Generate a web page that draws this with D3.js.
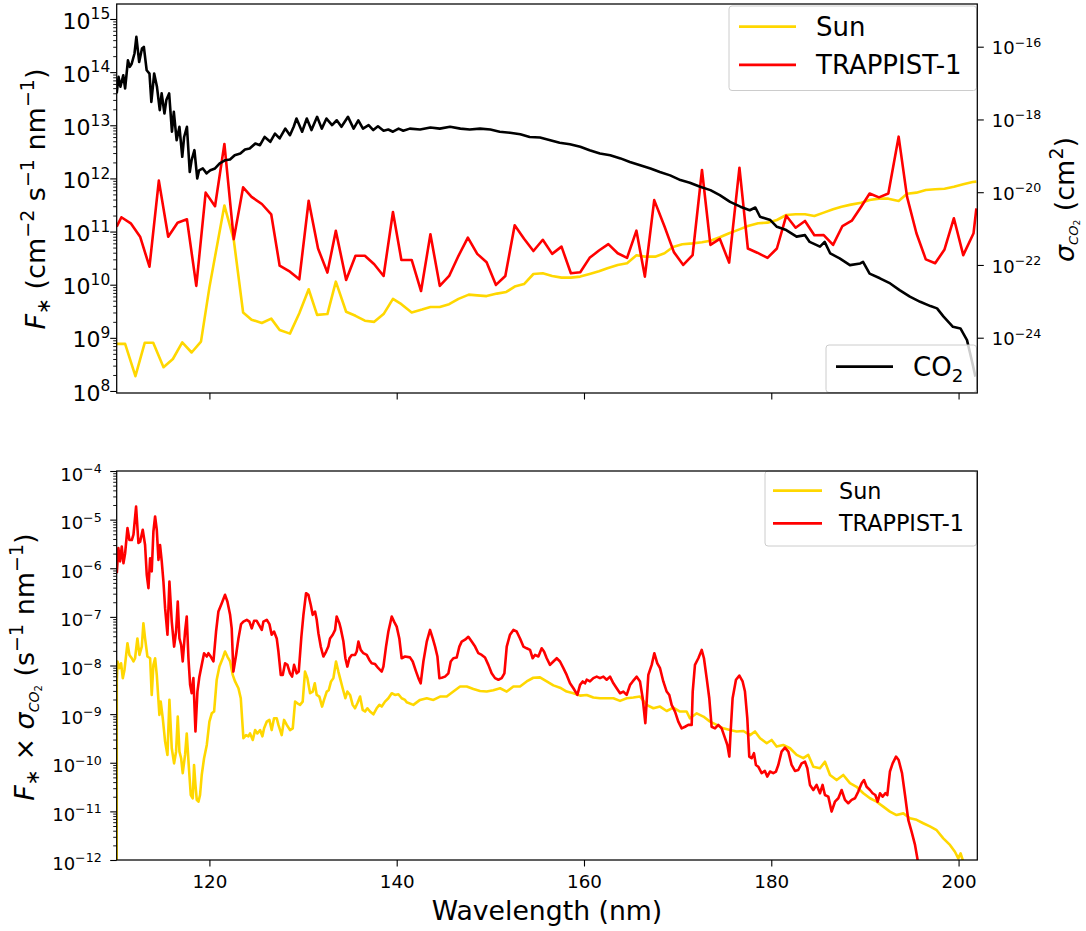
<!DOCTYPE html>
<html><head><meta charset="utf-8">
<script src="https://cdn.jsdelivr.net/npm/d3@7"></script>
<style>body{margin:0;background:#fff} text{font-family:"DejaVu Sans",sans-serif;fill:#000}</style>
</head><body><svg id="c" width="1086" height="931"></svg>
<script>
// ---------------- DATA ----------------
// Top panel: stellar flux (cm^-2 s^-1 nm^-1)
const sunFluxWl = [110.1,111.0,112.1,113.1,114.0,115.1,116.1,117.1,118.1,119.1,120.0,121.6,122.6,123.6,124.5,125.6,126.6,127.5,128.6,129.6,130.6,131.5,132.6,133.5,134.6,135.6,136.6,137.6,138.6,139.6,140.5,141.6,142.7,143.6,144.6,145.6,146.6,147.7,148.6,149.6,150.7,151.7,152.6,153.6,154.6,155.6,156.6,157.6,158.6,159.6,160.6,161.6,162.5,163.6,164.6,165.6,166.5,167.6,168.6,169.5,170.5,171.6,172.6,173.5,174.5,175.5,176.6,177.5,178.6,179.6,180.6,181.6,182.6,183.6,184.6,185.6,186.6,187.5,188.5,189.6,190.5,191.5,192.5,193.6,194.5,195.5,196.5,197.5,198.5,199.5,200.5,201.5,201.9];
const sunFlux = [7.7e8,7.7e8,1.9e8,8.1e8,8.1e8,2.8e8,4.0e8,8.2e8,5.3e8,8.5e8,8.9e9,3.1e11,7.0e10,3.0e9,2.2e9,1.9e9,2.3e9,1.4e9,1.2e9,2.9e9,8.2e9,2.7e9,2.8e9,1.14e10,3.1e9,2.6e9,2.1e9,2.0e9,2.8e9,5.4e9,4.3e9,3.0e9,3.4e9,3.8e9,3.8e9,4.3e9,5.4e9,6.5e9,6.3e9,6.1e9,6.8e9,7.3e9,9.2e9,1.03e10,1.59e10,1.64e10,1.46e10,1.36e10,1.36e10,1.42e10,1.59e10,1.79e10,2.04e10,2.35e10,2.53e10,3.57e10,3.37e10,3.37e10,3.9e10,5.13e10,5.77e10,6.0e10,6.3e10,6.7e10,7.8e10,9.3e10,1.1e11,1.27e11,1.43e11,1.47e11,1.65e11,2.05e11,2.11e11,2.11e11,1.96e11,2.27e11,2.62e11,2.94e11,3.21e11,3.49e11,3.93e11,4.16e11,4.16e11,3.77e11,5.16e11,5.4e11,6.05e11,6.24e11,6.41e11,6.98e11,7.76e11,8.57e11,8.69e11];
const trapFluxWl = [110.1,110.6,111.6,112.6,113.6,114.6,115.6,116.6,117.6,118.6,119.6,120.6,121.6,122.6,123.6,124.5,125.6,126.6,127.5,128.6,129.6,130.6,131.6,132.6,133.5,134.6,135.6,136.6,137.6,138.6,139.6,140.5,141.6,142.6,143.6,144.6,145.6,146.6,147.6,148.6,149.6,150.6,151.6,152.6,153.6,154.6,155.6,156.6,157.6,158.6,159.6,160.6,161.6,162.6,163.6,164.6,165.6,166.5,167.5,168.6,169.6,170.6,171.6,172.6,173.5,174.5,175.5,176.6,177.5,178.5,179.6,180.6,181.6,182.6,183.6,184.6,185.6,186.6,187.6,188.6,189.6,190.5,191.5,192.5,193.6,194.5,195.5,196.5,197.5,198.5,199.5,200.5,201.6,201.9];
const trapFlux = [1.24e11,1.86e11,1.43e11,8.0e10,2.18e10,9.1e11,8.0e10,1.47e11,1.70e11,9.5e9,5.4e11,3.0e11,4.45e12,7.2e10,6.8e11,4.5e11,3.3e11,2.11e11,2.28e10,1.76e10,1.26e10,3.8e11,4.8e10,1.69e10,1.03e11,1.23e10,3.5e10,3.5e10,2.42e10,1.46e10,2.33e11,2.92e10,2.92e10,7.6e9,8.9e10,9.5e9,1.46e10,3.5e10,7.7e10,3.8e10,2.64e10,9.9e9,1.46e10,1.31e11,7.3e10,4.3e10,7.0e10,3.8e10,5.2e10,1.64e10,1.71e10,3.2e10,4.4e10,5.8e10,3.9e10,3.2e10,1.04e11,1.42e10,3.9e11,1.24e11,4.1e10,2.35e10,3.6e10,1.44e12,5.6e10,7.3e10,2.6e10,1.59e12,4.8e10,4.0e10,3.2e10,4.8e10,1.99e11,1.18e11,1.58e11,8.5e10,8.6e10,5.6e10,1.27e11,1.6e11,2.94e11,5.2e11,4.4e11,5.2e11,6.1e12,4.5e11,9.3e10,3.0e10,2.53e10,4.6e10,1.78e11,3.6e10,9.3e10,2.74e11];
// Top panel, right axis: CO2 cross section (cm^2)
const co2Wl = [110.1,110.3,110.5,110.8,111.0,111.3,111.5,111.7,112.0,112.2,112.5,112.8,113.0,113.3,113.6,113.8,114.1,114.4,114.7,114.9,115.2,115.4,115.7,116.0,116.2,116.5,116.8,117.1,117.3,117.6,117.9,118.1,118.4,118.7,118.9,119.3,119.7,120.1,120.6,121.1,121.7,122.2,122.7,123.3,123.8,124.3,124.9,125.4,125.9,126.5,127.0,127.5,128.1,128.6,129.0,129.3,129.9,130.4,130.9,131.5,132.0,132.5,133.1,133.6,134.1,134.8,135.4,135.9,136.4,137.0,137.5,138.0,138.6,139.1,139.6,140.2,140.7,141.4,142.5,143.6,144.6,145.7,146.8,147.8,148.9,150.0,151.0,152.1,153.2,154.2,155.3,156.4,157.4,158.5,159.6,160.6,161.7,162.8,163.9,164.9,166.0,167.1,168.1,169.2,170.3,171.3,172.4,173.5,174.5,175.6,176.7,177.7,178.3,178.8,179.9,180.6,181.6,182.7,183.6,184.1,185.2,185.7,186.3,187.3,188.4,189.5,189.8,190.5,191.6,192.7,193.7,194.8,195.9,197.0,197.7,198.4,199.4,200.2,200.9,201.4,201.8];
const co2Sigma = [5.2e-18,1.48e-17,7.9e-18,1.64e-17,7.1e-18,4.2e-17,2.8e-17,3.4e-17,6.5e-17,1.86e-16,3.8e-17,8.9e-17,9.9e-17,2.25e-17,1.83e-17,3.05e-18,1.83e-17,7.9e-18,1.8e-18,5.2e-18,1.46e-18,3.4e-18,5.2e-18,4.6e-19,1.62e-18,2.7e-19,6.3e-19,9.4e-20,3.3e-19,6.3e-19,3.6e-20,7.6e-20,1.43e-19,2.4e-20,4.0e-20,4.5e-20,3.3e-20,4.0e-20,4.5e-20,6.2e-20,7.6e-20,7.9e-20,1.04e-19,1.16e-19,1.49e-19,1.59e-19,2.18e-19,1.96e-19,3.3e-19,2.43e-19,4.1e-19,3.0e-19,5.6e-19,3.7e-19,6.3e-19,1.06e-18,4.6e-19,1.06e-18,5.1e-19,1.18e-18,5.6e-19,1.06e-18,7.0e-19,9.5e-19,6.3e-19,1.18e-18,5.6e-19,9.5e-19,5.6e-19,7.0e-19,5.1e-19,6.5e-19,4.9e-19,5.3e-19,4.6e-19,5.6e-19,4.9e-19,5.6e-19,5.3e-19,6.0e-19,5.6e-19,6.3e-19,5.6e-19,5.3e-19,5.6e-19,5.3e-19,4.6e-19,4.3e-19,3.9e-19,3.3e-19,3.2e-19,2.7e-19,2.28e-19,2.09e-19,1.77e-19,1.43e-19,1.16e-19,1.04e-19,8.5e-20,6.8e-20,5.5e-20,4.5e-20,3.6e-20,2.9e-20,2.15e-20,1.82e-20,1.41e-20,1.14e-20,8.3e-21,5.4e-21,4.0e-21,3.2e-21,3.8e-21,2.11e-21,1.71e-21,1.12e-21,9.1e-22,6.0e-22,6.6e-22,4.3e-22,3.2e-22,4.3e-22,2.07e-22,1.51e-22,9.9e-23,1.1e-22,1.22e-22,5.8e-23,4.3e-23,3.1e-23,2.04e-23,1.34e-23,9.7e-24,7.4e-24,6.4e-24,3.8e-24,2.0e-24,1.8e-24,8.6e-25,2.43e-25,8.5e-26];
// Bottom panel: F* x sigma_CO2 (s^-1 nm^-1)
const sunRateWl = [110.1,110.11,110.18,110.39,110.57,110.75,110.93,111.25,111.46,111.71,111.89,112.06,112.31,112.53,112.78,112.95,113.13,113.38,113.67,113.84,114.02,114.2,114.38,114.66,114.8,115.02,115.27,115.52,115.73,115.98,116.23,116.44,116.62,116.8,116.98,117.15,117.4,117.58,117.79,118.01,118.22,118.36,118.51,118.65,118.83,119.0,119.18,119.43,119.72,120.0,120.25,120.5,120.78,121.07,121.42,121.67,121.92,122.21,122.49,122.74,123.1,123.35,123.63,123.91,124.16,124.34,124.63,124.88,125.12,125.41,125.66,125.84,126.12,126.41,126.65,126.9,127.19,127.37,127.72,127.97,128.26,128.61,128.9,129.15,129.4,129.68,129.96,130.21,130.46,130.75,131.03,131.25,131.46,131.74,132.03,132.24,132.53,132.74,132.99,133.24,133.52,133.77,133.95,134.23,134.52,134.73,135.02,135.3,135.55,135.8,136.09,136.37,136.62,136.87,137.15,137.51,137.86,138.15,138.4,138.75,139.11,139.47,139.82,140.18,140.53,140.89,141.07,141.78,142.49,143.21,143.92,144.63,145.34,146.05,146.77,147.48,148.19,148.9,149.61,150.32,151.04,151.75,152.46,153.17,153.88,154.59,155.3,156.02,156.73,157.44,158.15,158.87,159.58,160.29,161.0,161.71,162.42,163.14,163.85,164.56,165.27,165.98,166.69,167.41,168.12,168.83,169.54,170.25,170.96,171.32,172.04,172.75,173.46,174.17,174.88,175.59,176.3,177.02,177.73,178.26,178.8,179.51,180.04,180.57,181.28,182.0,182.71,183.42,183.95,184.49,185.2,185.73,186.27,186.98,187.69,188.4,189.11,189.83,190.54,191.25,191.96,192.67,193.38,194.1,194.81,195.52,196.23,196.94,197.66,198.37,199.08,199.61,199.97,200.22,200.5,200.8];
const sunRate = [1e-14,4.7e-9,1.21e-8,8.8e-9,1.11e-8,5.5e-9,8.1e-9,2.87e-8,1.65e-8,1.41e-8,1.21e-8,1.41e-8,3.6e-8,1.65e-8,2.45e-8,7.4e-8,3.6e-8,1.53e-8,1.41e-8,2.48e-9,1.03e-8,1.41e-8,6.4e-9,9.6e-10,1.81e-9,8.2e-10,2.72e-10,1.45e-10,1.96e-9,1.99e-10,9.7e-11,1.69e-10,8.9e-10,1.69e-10,1.24e-10,6.1e-11,1.45e-10,4.0e-10,9.0e-11,2.17e-11,1.86e-11,9.0e-11,3.5e-11,1.72e-11,1.58e-11,2.17e-11,5.6e-11,1.24e-10,2.32e-10,7.0e-10,1.04e-9,1.13e-9,5.1e-9,9.5e-9,1.41e-8,1.94e-8,1.53e-8,1.21e-8,6.4e-9,4.7e-9,3.4e-9,2.12e-9,3.2e-10,3.7e-10,3.5e-10,4.0e-10,2.94e-10,4.7e-10,4.0e-10,4.7e-10,3.5e-10,5.1e-10,7.0e-10,7.6e-10,4.7e-10,8.2e-10,8.2e-10,6.0e-10,3.7e-10,7.6e-10,6.0e-10,4.7e-10,5.1e-10,1.81e-9,1.67e-9,1.55e-9,1.81e-9,7.5e-9,5.5e-9,2.69e-9,2.91e-9,4.3e-9,2.48e-9,2.3e-9,1.43e-9,1.96e-9,2.91e-9,3.1e-9,4.7e-9,5.5e-9,1.21e-8,7.5e-9,5.5e-9,3.4e-9,2.12e-9,2.91e-9,2.48e-9,1.55e-9,1.32e-9,1.67e-9,2.3e-9,1.22e-9,1.13e-9,1.32e-9,1.13e-9,9.9e-10,1.32e-9,1.55e-9,1.43e-9,1.81e-9,2.12e-9,2.69e-9,2.48e-9,2.56e-9,2.12e-9,1.96e-9,1.75e-9,1.55e-9,1.96e-9,2.12e-9,1.96e-9,2.3e-9,2.3e-9,2.91e-9,3.7e-9,3.7e-9,3.3e-9,3.0e-9,2.91e-9,3.1e-9,3.4e-9,2.91e-9,3.7e-9,3.7e-9,4.7e-9,5.6e-9,5.7e-9,4.7e-9,3.9e-9,3.5e-9,2.91e-9,2.69e-9,2.4e-9,2.48e-9,2.19e-9,2.12e-9,2.12e-9,2.12e-9,1.87e-9,2.12e-9,2.19e-9,2.3e-9,1.55e-9,1.32e-9,1.43e-9,1.16e-9,1.36e-9,1.13e-9,1.13e-9,8.2e-10,1.04e-9,8.9e-10,7.0e-10,6.0e-10,5.1e-10,4.7e-10,4.4e-10,4.5e-10,3.7e-10,4.4e-10,3.2e-10,2.52e-10,2.94e-10,2.15e-10,2.32e-10,1.99e-10,1.45e-10,1.24e-10,1.45e-10,8.3e-11,7.7e-11,1.05e-10,5.6e-11,4.4e-11,5.6e-11,3.8e-11,3.2e-11,2.36e-11,1.86e-11,1.58e-11,1.25e-11,9.9e-12,8.4e-12,9.1e-12,7.2e-12,6.7e-12,5.7e-12,4.9e-12,4.1e-12,2.79e-12,2.04e-12,1.48e-12,1.08e-12,1.37e-12,9.2e-13,5e-13];
const trapRateWl = [110.11,110.28,110.46,110.64,110.82,111.0,111.25,111.46,111.71,111.89,112.17,112.42,112.6,112.88,113.13,113.31,113.49,113.67,113.84,114.02,114.2,114.38,114.56,114.73,114.91,115.09,115.27,115.52,115.73,115.98,116.23,116.44,116.62,116.8,116.98,117.15,117.4,117.58,117.76,117.94,118.11,118.29,118.51,118.72,118.93,119.18,119.43,119.72,119.89,120.14,120.43,120.71,120.96,121.32,121.67,121.92,122.21,122.38,122.56,122.85,123.1,123.38,123.63,123.99,124.27,124.52,124.77,125.05,125.34,125.59,125.77,126.12,126.41,126.65,126.9,127.19,127.37,127.62,127.83,128.08,128.33,128.61,128.83,129.04,129.32,129.54,129.82,130.04,130.32,130.57,130.82,131.03,131.28,131.46,131.64,131.89,132.17,132.46,132.7,132.88,133.17,133.42,133.59,133.88,134.02,134.31,134.52,134.73,134.95,135.2,135.55,135.73,135.91,136.16,136.44,136.8,137.08,137.33,137.69,138.04,138.4,138.58,138.86,139.11,139.47,139.72,140.0,140.28,140.53,140.89,141.42,141.71,142.07,142.32,142.56,142.85,143.21,143.56,143.85,144.1,144.35,144.56,144.81,145.16,145.52,145.77,146.05,146.41,146.69,146.94,147.3,147.65,148.01,148.37,148.72,149.08,149.43,149.79,150.14,150.5,150.86,151.21,151.5,151.75,152.1,152.46,152.81,153.17,153.53,153.88,154.24,154.52,154.77,155.13,155.48,155.73,156.02,156.37,156.73,157.09,157.44,157.8,158.15,158.51,158.87,159.29,159.58,159.86,160.11,160.29,160.64,161.0,161.36,161.71,162.07,162.42,162.78,163.14,163.49,163.85,164.2,164.56,164.92,165.2,165.63,165.98,166.27,166.55,166.87,167.23,167.51,167.83,168.12,168.47,168.83,169.11,169.36,169.72,170.07,170.43,170.79,171.14,171.5,171.61,171.85,172.21,172.57,172.81,173.1,173.38,173.63,173.99,174.34,174.7,175.06,175.31,175.52,175.66,175.87,176.23,176.59,176.94,177.19,177.44,177.65,177.9,178.15,178.36,178.61,178.97,179.32,179.57,179.86,180.21,180.5,180.75,181.1,181.46,181.82,182.17,182.53,182.88,183.24,183.6,183.85,184.13,184.49,184.84,185.2,185.48,185.73,186.09,186.44,186.8,187.16,187.51,187.87,188.22,188.58,188.94,189.29,189.65,189.9,190.18,190.54,190.82,191.11,191.36,191.61,191.89,192.18,192.39,192.67,192.96,193.32,193.6,193.96,194.28,194.63,194.99,195.35,195.63,195.9];
const trapRate = [7.9e-7,2.59e-6,1.38e-6,2.8e-6,1.27e-6,2.04e-6,6.7e-6,3.8e-6,3.8e-6,4.9e-6,1.86e-5,3.3e-6,3.5e-6,6.2e-6,3.0e-6,7.3e-7,3.9e-7,1.61e-6,8.6e-7,5.7e-6,1.16e-5,6.2e-6,1.49e-6,3.0e-6,1.38e-6,5.3e-7,1.51e-7,4.3e-8,5.3e-7,8.0e-8,2.45e-8,5.0e-8,2.07e-7,3.6e-8,2.65e-8,1.21e-8,5.0e-8,1.02e-7,1.41e-8,4.0e-9,2.69e-9,5.5e-9,4.4e-10,2.91e-9,5.9e-9,1.03e-8,1.79e-8,1.53e-8,1.79e-8,1.53e-8,1.21e-8,5.0e-8,1.29e-7,1.91e-7,2.84e-7,2.07e-7,1.1e-7,5.8e-8,7.5e-9,1.65e-8,3.6e-8,7.1e-8,8.0e-8,8.7e-8,8.0e-8,5.8e-8,8.3e-8,8.3e-8,6.6e-8,5.4e-8,8.0e-8,8.7e-8,7.1e-8,4.3e-8,5.0e-8,3.6e-8,1.94e-8,6.4e-9,6.4e-9,1.11e-8,1.03e-8,6.9e-9,5.9e-9,1.03e-8,6.9e-9,7.5e-9,3.9e-8,1.1e-7,3.07e-7,2.84e-7,1.77e-7,1.1e-7,1.29e-7,8.7e-8,4.6e-8,2.45e-8,1.53e-8,1.94e-8,2.45e-8,3.6e-8,4.3e-8,5.4e-8,1.02e-7,7.4e-8,5.8e-8,3.1e-8,1.41e-8,9.5e-9,1.41e-8,1.65e-8,1.65e-8,1.94e-8,3.1e-8,2.09e-8,1.79e-8,1.65e-8,1.3e-8,1.11e-8,1.07e-8,8.8e-9,7.5e-9,9.5e-9,2.45e-8,5.0e-8,1.02e-7,8.0e-8,6.3e-8,3.6e-8,1.41e-8,1.53e-8,1.47e-8,1.21e-8,7.5e-9,5.5e-9,4.3e-9,1.21e-8,3.1e-8,5.4e-8,3.6e-8,2.45e-8,1.53e-8,5.5e-9,5.6e-9,5.9e-9,6.9e-9,1.21e-8,1.41e-8,1.46e-8,2.45e-8,3.1e-8,3.4e-8,3.9e-8,3.1e-8,2.45e-8,1.79e-8,1.65e-8,1.46e-8,1.03e-8,6.9e-9,5.5e-9,5.1e-9,5.5e-9,6.9e-9,2.45e-8,4.3e-8,5.4e-8,5.0e-8,3.6e-8,2.45e-8,2.26e-8,2.09e-8,1.41e-8,1.65e-8,1.53e-8,2.26e-8,1.94e-8,1.41e-8,1.03e-8,1.21e-8,1.41e-8,1.21e-8,8.8e-9,6.4e-9,4.3e-9,3.4e-9,2.48e-9,4.0e-9,4.7e-9,4.3e-9,5.1e-9,4.7e-9,5.5e-9,5.9e-9,5.5e-9,5.9e-9,5.1e-9,5.9e-9,4.3e-9,3.4e-9,2.69e-9,2.91e-9,2.48e-9,4.0e-9,4.7e-9,5.9e-9,4.7e-9,2.12e-9,6.5e-10,6.4e-9,1.03e-8,1.79e-8,1.11e-8,8.8e-9,4.7e-9,2.91e-9,2.48e-9,1.55e-9,1.13e-9,7.0e-10,5.1e-10,5.5e-10,6.0e-10,6.0e-10,2.91e-9,1.03e-8,1.41e-8,2.09e-8,1.41e-8,5.5e-9,2.12e-9,5.5e-10,5.1e-10,6.0e-10,5.1e-10,3.2e-10,2.32e-10,1.34e-10,4.4e-10,2.12e-9,5.1e-9,6.2e-9,4.7e-9,2.91e-9,8.2e-10,1.34e-10,1.24e-10,1.57e-10,9.0e-11,8.3e-11,6.1e-11,6.8e-11,5.2e-11,6.6e-11,6.1e-11,6.6e-11,9.0e-11,1.69e-10,2.05e-10,1.69e-10,9.0e-11,6.8e-11,7.1e-11,9.7e-11,1.05e-10,7.7e-11,3.5e-11,2.75e-11,3.5e-11,2.36e-11,3.5e-11,2.17e-11,2.01e-11,9.9e-12,1.58e-11,1.86e-11,2.75e-11,1.72e-11,1.47e-11,1.72e-11,1.86e-11,2.55e-11,3.8e-11,4.4e-11,3.2e-11,2.75e-11,2.36e-11,2.17e-11,1.58e-11,2.36e-11,2.01e-11,2.36e-11,2.17e-11,6.6e-11,9.7e-11,1.34e-10,1.14e-10,6.1e-11,2.17e-11,6.7e-12,3.8e-12,2.04e-12,1.0e-12,4e-13];
// Axis ticks
const xTicks = [120,140,160,180,200];
const fluxTicks = [8,9,10,11,12,13,14,15];        // exponents, left axis top panel
const sigmaTicks = [-24,-22,-20,-18,-16];         // exponents, right axis top panel
const rateTicks = [-12,-11,-10,-9,-8,-7,-6,-5,-4]; // exponents, bottom panel
const seriesNames = ["Sun","TRAPPIST-1"];
const colors = {sun:"#FFD700", trap:"#FF0000", co2:"#000000"};

// ---------------- LAYOUT ----------------
const svg = d3.select("#c");
const L = 116.7, R = 977.3;
const T1 = 4, B1 = 393, T2 = 471, B2 = 860;
const x = d3.scaleLinear().domain([110.1, 202.0]).range([L, R]);
const yF = d3.scaleLog().domain([Math.pow(10,7.962), Math.pow(10,15.282)]).range([B1, T1]);
const yS = d3.scaleLog().domain([Math.pow(10,-25.52), Math.pow(10,-14.826)]).range([B1, T1]);
const yR = d3.scaleLog().domain([1e-12, 1e-4]).range([B2, T2]);
const zip = (a,b) => a.map((v,i)=>[v,b[i]]);
const LW = 2.6;

const defs = svg.append("defs");
defs.append("clipPath").attr("id","clipTop").append("rect").attr("x",L).attr("y",T1).attr("width",R-L).attr("height",B1-T1);
defs.append("clipPath").attr("id","clipBot").append("rect").attr("x",L).attr("y",T2).attr("width",R-L).attr("height",B2-T2);

function drawLine(g, data, ys, color, clip){
  g.append("path").datum(data)
    .attr("clip-path", `url(#${clip})`)
    .attr("fill","none").attr("stroke",color).attr("stroke-width",LW)
    .attr("stroke-linejoin","round").attr("stroke-linecap","butt")
    .attr("d", d3.line().x(d=>x(d[0])).y(d=>ys(d[1])));
}
function minorVals(lo, hi){ const out=[]; for(let e=lo;e<hi;e++) for(let m=2;m<=9;m++) out.push(m*Math.pow(10,e)); return out; }
function expLabel(sel, exp, fs){
  sel.text(null);
  sel.append("tspan").text("10");
  sel.append("tspan").attr("font-size", fs*0.7).attr("dy", -fs*0.42).text(String(exp).replace("-","\u2212"));
}
function styleAxis(g){
  g.select(".domain").remove();
  g.selectAll(".tick line").attr("stroke","#000").attr("stroke-width",1.1);
}

// ---------------- TOP PANEL ----------------
const gTop = svg.append("g");
drawLine(gTop, zip(sunFluxWl, sunFlux), yF, colors.sun, "clipTop");
drawLine(gTop, zip(trapFluxWl, trapFlux), yF, colors.trap, "clipTop");

function legendBox(g, x0, y0, w, h, items, fs, lineX0, lineX1, textX){
  g.append("rect").attr("x",x0).attr("y",y0).attr("width",w).attr("height",h).attr("rx",3)
    .attr("fill","#fff").attr("fill-opacity",0.8).attr("stroke","#cccccc").attr("stroke-width",1);
  items.forEach(it=>{
    g.append("line").attr("x1",lineX0).attr("x2",lineX1).attr("y1",it.y).attr("y2",it.y)
      .attr("stroke",it.color).attr("stroke-width",2.8);
    const t = g.append("text").attr("x",textX).attr("y",it.y + fs*0.36).attr("font-size",fs);
    it.render(t, fs);
  });
}
legendBox(gTop, 729, 6, 247.5, 84.5, [
  {y:26.7, color:colors.sun, render:(t)=>t.text(seriesNames[0])},
  {y:64.8, color:colors.trap, render:(t)=>t.text(seriesNames[1])}
], 26, 739, 796, 816);

drawLine(gTop, zip(co2Wl, co2Sigma), yS, colors.co2, "clipTop");
legendBox(gTop, 826, 345, 150.5, 47.5, [
  {y:366.7, color:colors.co2, render:(t,fs)=>{ t.append("tspan").text("CO"); t.append("tspan").attr("font-size",fs*0.7).attr("dy",fs*0.22).text("2"); }}
], 26, 836, 893, 913);

// axes top
const axL1 = gTop.append("g").attr("transform",`translate(${L},0)`)
  .call(d3.axisLeft(yF).tickValues(fluxTicks.map(e=>Math.pow(10,e))).tickSize(6.5).tickPadding(0).tickFormat(""));
styleAxis(axL1);
axL1.selectAll(".tick").each(function(d,i){
  const fs=22;
  const t = d3.select(this).append("text").attr("x",-6.5).attr("y",fs*0.3645+1).attr("text-anchor","end").attr("font-size",fs);
  expLabel(t, fluxTicks[i], fs);
});
const axL1m = gTop.append("g").attr("transform",`translate(${L},0)`)
  .call(d3.axisLeft(yF).tickValues(minorVals(7,15).filter(v=>v>=yF.domain()[0]&&v<=yF.domain()[1])).tickSize(3.5).tickFormat(""));
styleAxis(axL1m); axL1m.selectAll(".tick line").attr("stroke-width",0.9);

const axR1 = gTop.append("g").attr("transform",`translate(${R},0)`)
  .call(d3.axisRight(yS).tickValues(sigmaTicks.map(e=>Math.pow(10,e))).tickSize(6.5).tickFormat(""));
styleAxis(axR1);
axR1.selectAll(".tick").each(function(d,i){
  const fs=18;
  const t = d3.select(this).append("text").attr("x",14.5).attr("y",fs*0.3645+0.5).attr("text-anchor","start").attr("font-size",fs);
  expLabel(t, sigmaTicks[i], fs);
});
const axB1 = gTop.append("g").attr("transform",`translate(0,${B1})`)
  .call(d3.axisBottom(x).tickValues(xTicks).tickSize(6.5).tickFormat(""));
styleAxis(axB1);
gTop.append("rect").attr("x",L).attr("y",T1).attr("width",R-L).attr("height",B1-T1)
  .attr("fill","none").attr("stroke","#000").attr("stroke-width",1.25);

// labels top
const yl1 = gTop.append("text").attr("transform","translate(45,199) rotate(-90)").attr("text-anchor","middle").attr("font-size",27);
yl1.append("tspan").attr("font-style","italic").text("F");
yl1.append("tspan").attr("font-size",19).attr("dy",5).text("\u2217");
yl1.append("tspan").attr("dy",-5).text(" (cm");
yl1.append("tspan").attr("font-size",19).attr("dy",-11).text("\u22122");
yl1.append("tspan").attr("dy",11).text(" s");
yl1.append("tspan").attr("font-size",19).attr("dy",-11).text("\u22121");
yl1.append("tspan").attr("dy",11).text(" nm");
yl1.append("tspan").attr("font-size",19).attr("dy",-11).text("\u22121");
yl1.append("tspan").attr("dy",11).text(")");

const yr1 = gTop.append("text").attr("transform","translate(1074,199.5) rotate(-90)").attr("text-anchor","middle").attr("font-size",27);
yr1.append("tspan").attr("font-style","italic").text("\u03C3");
yr1.append("tspan").attr("font-style","italic").attr("font-size",13).attr("dy",4).text("CO");
yr1.append("tspan").attr("font-size",9).attr("dy",2).text("2");
yr1.append("tspan").attr("dy",-6).text(" (cm");
yr1.append("tspan").attr("font-size",19).attr("dy",-11).text("2");
yr1.append("tspan").attr("dy",11).text(")");

// ---------------- BOTTOM PANEL ----------------
const gBot = svg.append("g");
drawLine(gBot, zip(sunRateWl, sunRate), yR, colors.sun, "clipBot");
drawLine(gBot, zip(trapRateWl, trapRate), yR, colors.trap, "clipBot");
legendBox(gBot, 765, 471, 211.5, 75, [
  {y:490.7, color:colors.sun, render:(t)=>t.text(seriesNames[0])},
  {y:523.3, color:colors.trap, render:(t)=>t.text(seriesNames[1])}
], 22.3, 773, 822, 839);

const axL2 = gBot.append("g").attr("transform",`translate(${L},0)`)
  .call(d3.axisLeft(yR).tickValues(rateTicks.map(e=>Math.pow(10,e))).tickSize(6.5).tickFormat(""));
styleAxis(axL2);
axL2.selectAll(".tick").each(function(d,i){
  const fs=18;
  const t = d3.select(this).append("text").attr("x",-15).attr("y",fs*0.3645+2.5).attr("text-anchor","end").attr("font-size",fs);
  expLabel(t, rateTicks[i], fs);
});
const axL2m = gBot.append("g").attr("transform",`translate(${L},0)`)
  .call(d3.axisLeft(yR).tickValues(minorVals(-12,-4)).tickSize(3.5).tickFormat(""));
styleAxis(axL2m); axL2m.selectAll(".tick line").attr("stroke-width",0.9);

const axB2 = gBot.append("g").attr("transform",`translate(0,${B2})`)
  .call(d3.axisBottom(x).tickValues(xTicks).tickSize(6.5).tickFormat(""));
styleAxis(axB2);
axB2.selectAll(".tick").append("text").attr("y",28).attr("text-anchor","middle").attr("font-size",18.3).text(d=>d);
gBot.append("rect").attr("x",L).attr("y",T2).attr("width",R-L).attr("height",B2-T2)
  .attr("fill","none").attr("stroke","#000").attr("stroke-width",1.25);

gBot.append("text").attr("x",(L+R)/2).attr("y",920).attr("text-anchor","middle").attr("font-size",26.7).text("Wavelength (nm)");

const yl2 = gBot.append("text").attr("transform","translate(34,667) rotate(-90)").attr("text-anchor","middle").attr("font-size",27);
yl2.append("tspan").attr("font-style","italic").text("F");
yl2.append("tspan").attr("font-size",19).attr("dy",5).text("\u2217");
yl2.append("tspan").attr("dy",-5).text(" \u00D7 ");
yl2.append("tspan").attr("font-style","italic").text("\u03C3");
yl2.append("tspan").attr("font-style","italic").attr("font-size",14).attr("dy",5).text("CO");
yl2.append("tspan").attr("font-size",10).attr("dy",3).text("2");
yl2.append("tspan").attr("dy",-8).text(" (s");
yl2.append("tspan").attr("font-size",19).attr("dy",-11).text("\u22121");
yl2.append("tspan").attr("dy",11).text(" nm");
yl2.append("tspan").attr("font-size",19).attr("dy",-11).text("\u22121");
yl2.append("tspan").attr("dy",11).text(")");
</script></body></html>
